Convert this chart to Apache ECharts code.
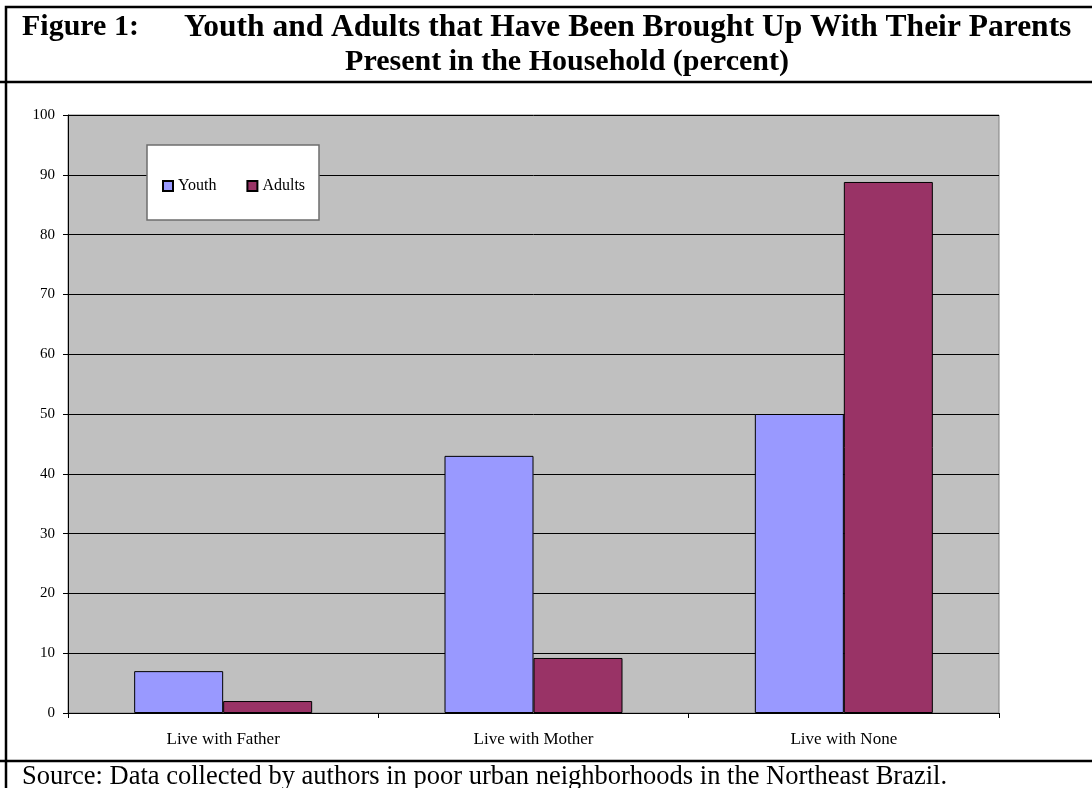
<!DOCTYPE html>
<html>
<head>
<meta charset="utf-8">
<script src="https://cdn.jsdelivr.net/npm/echarts@6/dist/echarts.min.js"></script>
<style>
  html, body { margin: 0; padding: 0; background: #fff; }
  #main { width: 1092px; height: 788px; }
</style>
</head>
<body>
<div id="main"></div>
<script>
// data
var categories = ['Live with Father', 'Live with Mother', 'Live with None'];
var youth = [7, 43, 50];
var adults = [2, 9.2, 88.8];
var yTicks = [0, 10, 20, 30, 40, 50, 60, 70, 80, 90, 100];

var serif = '"Liberation Serif", "Times New Roman", serif';
var chart = echarts.init(document.getElementById('main'));

chart.setOption({
  animation: false,
  graphic: [
    // outer frame and separators
    { type: 'rect', shape: { x: 6, y: 7, width: 1100, height: 800 }, style: { fill: 'none', stroke: '#000', lineWidth: 2.5 }, z: 100 },
    { type: 'line', shape: { x1: 0, y1: 82, x2: 1092, y2: 82 }, style: { stroke: '#000', lineWidth: 2.5 }, z: 100 },
    { type: 'line', shape: { x1: 0, y1: 761, x2: 1092, y2: 761 }, style: { stroke: '#000', lineWidth: 2.5 }, z: 100 },
    // title
    { type: 'text', x: 22, y: 12, style: { text: 'Figure 1:', font: 'bold 30px ' + serif, fill: '#000' } },
    { type: 'text', x: 184, y: 12, style: { text: 'Youth and Adults that Have Been Brought Up With Their Parents', font: 'bold 31.5px ' + serif, fill: '#000' } },
    { type: 'text', x: 567, y: 47, style: { text: 'Present in the Household (percent)', font: 'bold 30px ' + serif, fill: '#000', align: 'center' } },
    // source note
    { type: 'text', x: 22, y: 764, style: { text: 'Source: Data collected by authors in poor urban neighborhoods in the Northeast Brazil.', font: '26.5px ' + serif, fill: '#000' } },
    // legend box
    { type: 'rect', shape: { x: 147, y: 145, width: 172, height: 75 }, style: { fill: '#fff', stroke: '#6e6e6e', lineWidth: 1.5 }, z: 10 }
  ],
  legend: {
    left: 162,
    top: 178,
    padding: 0,
    itemWidth: 10,
    itemHeight: 10,
    itemGap: 30,
    icon: 'rect',
    z: 20,
    textStyle: { fontFamily: serif, fontSize: 16, color: '#000' },
    data: ['Youth', 'Adults']
  },
  grid: {
    left: 68, right: 93, top: 115, bottom: 75,
    show: true,
    backgroundColor: '#C0C0C0',
    borderColor: '#808080',
    borderWidth: 1
  },
  xAxis: {
    type: 'category',
    data: categories,
    axisLine: { lineStyle: { color: '#000' } },
    axisTick: { show: true, length: 5, lineStyle: { color: '#000' } },
    axisLabel: { fontFamily: serif, fontSize: 17, color: '#000', margin: 18 }
  },
  yAxis: {
    type: 'value',
    min: yTicks[0],
    max: yTicks[yTicks.length - 1],
    interval: 10,
    axisLine: { show: true, lineStyle: { color: '#000' } },
    axisTick: { show: true, length: 5, lineStyle: { color: '#000' } },
    axisLabel: { fontFamily: serif, fontSize: 15, color: '#000', margin: 13 },
    splitLine: { lineStyle: { color: '#000', width: 1 } }
  },
  series: [
    {
      name: 'Youth', type: 'bar', data: youth,
      barWidth: 89, barGap: '0%',
      itemStyle: { color: '#9999FF', borderColor: '#000', borderWidth: 1 }
    },
    {
      name: 'Adults', type: 'bar', data: adults,
      barWidth: 89,
      itemStyle: { color: '#993366', borderColor: '#000', borderWidth: 1 }
    }
  ]
});
</script>
</body>
</html>
